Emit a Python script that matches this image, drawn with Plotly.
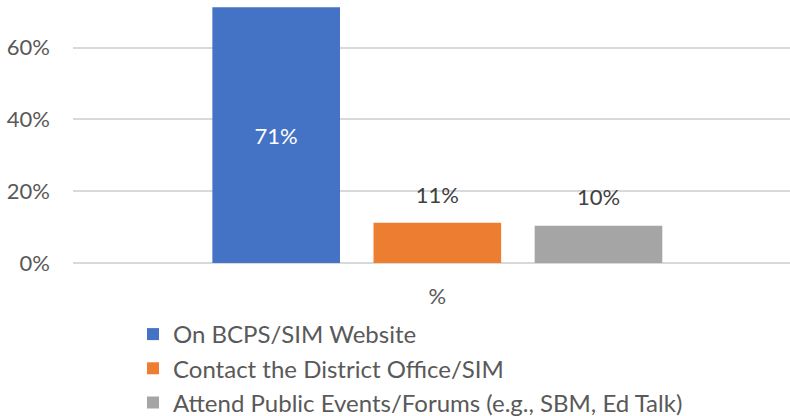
import plotly.graph_objects as go

categories = ["%"]
series_names = ["On BCPS/SIM Website", "Contact the District Office/SIM",
                "Attend Public Events/Forums (e.g., SBM, Ed Talk)"]
series_values = [71.3, 11.2, 10.4]
series_colors = ["#4472C4", "#ED7D31", "#A5A5A5"]
label_inside = [True, False, False]
y_ticks = [0, 20, 40, 60]
y_tick_labels = ["0%", "20%", "40%", "60%"]

FONT = "Lato"
fig = go.Figure()
for i, (name, val, col, ins) in enumerate(zip(series_names, series_values, series_colors, label_inside)):
    fig.add_trace(go.Bar(
        x=categories, y=[val], name=name, marker=dict(color=col, line=dict(width=0)),
        text=[f"{val:.0f}%" if ins else ""],
        textposition="inside", insidetextanchor="middle", textangle=0,
        textfont=dict(family=FONT, size=22, color="#FFFFFF"),
        legendgroup=f"g{i}", offsetgroup=f"o{i}", alignmentgroup="a",
        hoverinfo="skip",
    ))
# outside value labels (aligned with the bars through offset groups)
for i, (name, val, ins) in enumerate(zip(series_names, series_values, label_inside)):
    fig.add_trace(go.Scatter(
        x=categories, y=[val], mode="markers+text",
        text=["" if ins else f"{val:.0f}%"], textposition="top center",
        textfont=dict(family=FONT, size=22, color="#404040"),
        marker=dict(size=22, opacity=0),
        showlegend=False, hoverinfo="skip", cliponaxis=False,
        offsetgroup=f"o{i}", alignmentgroup="a",
    ))

fig.update_layout(
    width=790, height=416,
    margin=dict(l=73.3, r=0, t=0, b=152.7, autoexpand=False),
    paper_bgcolor="white", plot_bgcolor="white",
    barmode="group", bargap=0.3365, bargroupgap=0.208,
    scattermode="group", scattergap=0.3365,
    font=dict(family=FONT, size=22, color="#595959"),
    showlegend=True,
    legend=dict(orientation="v", xref="container", yref="container",
                x=133 / 790, y=1 - 312 / 416, xanchor="left", yanchor="top",
                font=dict(family=FONT, size=24, color="#595959"),
                traceorder="grouped", tracegroupgap=0, itemwidth=30,
                bgcolor="rgba(0,0,0,0)"),
    xaxis=dict(range=[-0.5, 0.484], showgrid=False, showline=False, zeroline=False,
               ticks="", tickfont=dict(family=FONT, size=22, color="#595959"),
               ticklabelstandoff=18, fixedrange=True),
    yaxis=dict(range=[0, 73.3], tickvals=y_ticks, ticktext=y_tick_labels,
               showgrid=True, gridcolor="#D9D9D9", gridwidth=1.5,
               zeroline=True, zerolinecolor="#D9D9D9", zerolinewidth=1.5,
               showline=False, ticks="",
               tickfont=dict(family=FONT, size=22, color="#595959"),
               ticklabelstandoff=22, fixedrange=True),
)
fig.write_html("out.html", config={"displayModeBar": False},
               post_script="document.body.style.margin='0';")
